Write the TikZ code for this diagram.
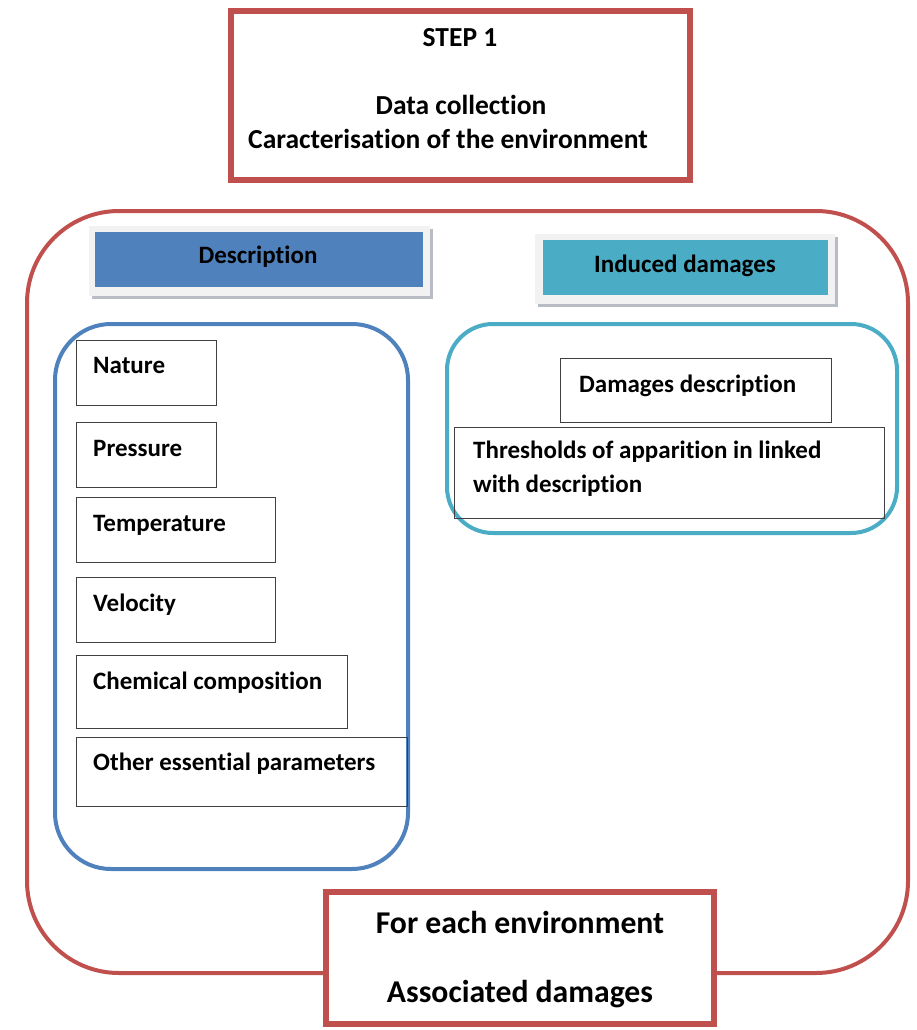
\documentclass[tikz,border=0pt]{standalone}
\usepackage{fontspec}
\setmainfont{Carlito}[Ligatures=NoCommon]
\usetikzlibrary{calc}
\definecolor{cred}{HTML}{C0504D}
\definecolor{cblue}{HTML}{4F81BD}
\definecolor{ccyan}{HTML}{4BACC6}
\definecolor{cframe}{HTML}{F2F2F2}
\definecolor{cshadow}{HTML}{B8BCC4}
\begin{document}
\begin{tikzpicture}[x=1pt,y=-1pt,
  redbox/.style={draw=cred, line width=6pt, fill=white, inner sep=0, minimum width=#1},
  smallbox/.style={draw=black!75, line width=1.2pt, inner sep=0, anchor=north west},
  txt/.style={font=\bfseries\fontsize{25}{30}\selectfont, inner sep=0},
  bigtxt/.style={font=\bfseries\fontsize{27.5}{32}\selectfont, inner sep=0},
  hugetxt/.style={font=\bfseries\fontsize{31.7}{36}\selectfont, inner sep=0}]
\useasboundingbox (0,0) rectangle (917,1030);
% outer rounded frame
\draw[cred, line width=4pt, rounded corners=92pt] (27,211) rectangle (908,973);
% top box
\node[redbox=459pt, minimum height=169pt] (step) at (460.5,95.5) {};
\node[bigtxt, anchor=base] (t1) at (460,47) {STEP 1};
\node[bigtxt, anchor=base] (t2) at (461,115) {Data collection};
\node[bigtxt, anchor=base] (t3) at (448,148) {Caracterisation of the environment};
% Description header
\fill[cshadow] (92,229) rectangle (433,299);
\fill[cframe] (89,226) rectangle (430,296);
\node[fill=cblue, minimum width=328pt, minimum height=55pt, inner sep=0] (hd) at (259,259.5) {};
\node[txt, anchor=base] (hdt) at (258,263) {Description};
% Induced damages header
\fill[cshadow] (538,237) rectangle (838,307);
\fill[cframe] (535,234) rectangle (835,304);
\node[fill=ccyan, minimum width=285pt, minimum height=55pt, inner sep=0] (hi) at (685,267.5) {};
\node[txt, anchor=base] (hit) at (685,272) {Induced damages};
% blue rounded group
\draw[cblue, line width=4pt, rounded corners=56pt] (55,324) rectangle (408,869);
% cyan rounded group
\draw[ccyan, line width=4pt, rounded corners=46pt] (447,324) rectangle (897,533);
% description boxes
\node[smallbox, minimum width=140pt, minimum height=65pt] (b1) at (76,340) {};
\node[txt, anchor=base west] (l1) at ($(b1.north west)+(17,33)$) {Nature};
\node[smallbox, minimum width=140pt, minimum height=65pt] (b2) at (76,422) {};
\node[txt, anchor=base west] (l2) at ($(b2.north west)+(17,34)$) {Pressure};
\node[smallbox, minimum width=199pt, minimum height=65pt] (b3) at (76,497) {};
\node[txt, anchor=base west] (l3) at ($(b3.north west)+(17,34)$) {Temperature};
\node[smallbox, minimum width=199pt, minimum height=65pt] (b4) at (76,577) {};
\node[txt, anchor=base west] (l4) at ($(b4.north west)+(17,34)$) {Velocity};
\node[smallbox, minimum width=271pt, minimum height=73pt] (b5) at (76,655) {};
\node[txt, anchor=base west] (l5) at ($(b5.north west)+(17,34)$) {Chemical composition};
\node[smallbox, minimum width=331pt, minimum height=69pt] (b6) at (76,737) {};
\node[txt, anchor=base west] (l6) at ($(b6.north west)+(17,33)$) {Other essential parameters};
% damages boxes
\node[smallbox, minimum width=271pt, minimum height=64pt] (d1) at (560,358) {};
\node[txt, anchor=base west] (m1) at ($(d1.north west)+(19,34)$) {Damages description};
\node[smallbox, minimum width=430pt, minimum height=91pt] (d2) at (454,427) {};
\node[txt, anchor=base west] (m2) at ($(d2.north west)+(19,31)$) {Thresholds of apparition in linked};
\node[txt, anchor=base west] (m3) at ($(d2.north west)+(19,65)$) {with description};
% bottom box
\node[redbox=388pt, minimum height=132pt] (fe) at (520,958) {};
\node[hugetxt, anchor=base] (f1) at (520,933) {For each environment};
\node[hugetxt, anchor=base] (f2) at (520,1002) {Associated damages};
\end{tikzpicture}
\end{document}
